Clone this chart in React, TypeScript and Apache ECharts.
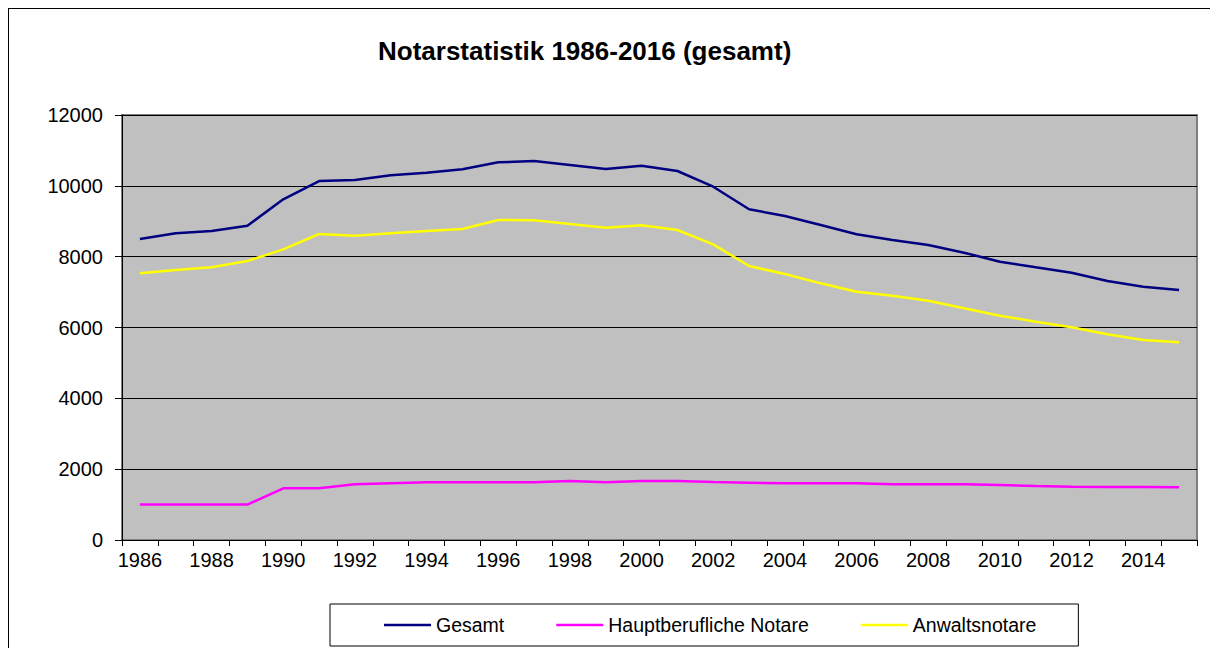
import React, { useEffect, useRef } from "react";
import * as echarts from "echarts";

const years = [
  "1986", "1987", "1988", "1989", "1990", "1991", "1992", "1993", "1994", "1995",
  "1996", "1997", "1998", "1999", "2000", "2001", "2002", "2003", "2004", "2005",
  "2006", "2007", "2008", "2009", "2010", "2011", "2012", "2013", "2014", "2015",
];

const gesamt = [
  8500, 8660, 8725, 8875, 9620, 10136, 10165, 10300, 10370, 10467,
  10664, 10700, 10588, 10475, 10569, 10419, 9976, 9337, 9148, 8894,
  8631, 8470, 8329, 8112, 7858, 7700, 7547, 7313, 7152, 7059,
];

const hauptberuflich = [
  1000, 1000, 1000, 1000, 1460, 1460, 1572, 1600, 1628, 1628,
  1628, 1628, 1666, 1628, 1666, 1666, 1638, 1619, 1600, 1600,
  1600, 1572, 1572, 1572, 1553, 1525, 1506, 1497, 1497, 1490,
];

const anwaltsnotare = [
  7530, 7623, 7700, 7877, 8207, 8640, 8593, 8659, 8725, 8781,
  9035, 9030, 8922, 8819, 8885, 8753, 8348, 7736, 7510, 7247,
  7012, 6899, 6756, 6541, 6334, 6165, 6005, 5807, 5647, 5581,
];

const yTicks = { min: 0, max: 12000, interval: 2000 };

const FONT = "'Liberation Sans', Arial, sans-serif";

export default function App() {
  const ref = useRef<HTMLDivElement>(null);

  useEffect(() => {
    if (!ref.current) return;
    const chart = echarts.init(ref.current, undefined, { renderer: "svg" });
    chart.setOption({
      animation: false,
      backgroundColor: "#ffffff",
      title: {
        text: "Notarstatistik 1986-2016 (gesamt)",
        left: 364,
        top: 24,
        textStyle: { fontFamily: FONT, fontSize: 26, fontWeight: "bold", color: "#000" },
      },
      grid: {
        left: 113,
        right: 18,
        top: 106,
        bottom: 127,
        show: true,
        backgroundColor: "#C0C0C0",
        borderColor: "#808080",
        borderWidth: 2,
        containLabel: false,
      },
      legend: {
        left: 321,
        top: 595,
        orient: "horizontal",
        icon: "rect",
        itemWidth: 47,
        itemHeight: 2.5,
        itemGap: 52,
        padding: [11, 42, 11, 54],
        borderColor: "#000",
        borderWidth: 1,
        borderRadius: 0,
        backgroundColor: "#fff",
        textStyle: { fontFamily: FONT, fontSize: 19.5, color: "#000" },
        data: ["Gesamt", "Hauptberufliche Notare", "Anwaltsnotare"],
      },
      xAxis: {
        type: "category",
        data: years,
        boundaryGap: true,
        axisLine: { show: true, lineStyle: { color: "#000", width: 1 } },
        axisTick: { show: true, interval: 0, alignWithLabel: false, length: 6, lineStyle: { color: "#000" } },
        axisLabel: { interval: 1, margin: 10, fontFamily: FONT, fontSize: 20, color: "#000" },
        splitLine: { show: false },
      },
      yAxis: {
        type: "value",
        min: yTicks.min,
        max: yTicks.max,
        interval: yTicks.interval,
        axisLine: { show: true, lineStyle: { color: "#000", width: 1 } },
        axisTick: { show: true, length: 7, lineStyle: { color: "#000" } },
        axisLabel: {
          margin: 19,
          fontFamily: FONT,
          fontSize: 20,
          color: "#000",
          formatter: (v: number) => String(v),
        },
        splitLine: { show: true, lineStyle: { color: "#000", width: 1 } },
      },
      series: [
        {
          name: "Gesamt",
          type: "line",
          data: gesamt,
          symbol: "none",
          lineStyle: { color: "#000080", width: 2.5 },
          itemStyle: { color: "#000080" },
        },
        {
          name: "Hauptberufliche Notare",
          type: "line",
          data: hauptberuflich,
          symbol: "none",
          lineStyle: { color: "#FF00FF", width: 2.5 },
          itemStyle: { color: "#FF00FF" },
        },
        {
          name: "Anwaltsnotare",
          type: "line",
          data: anwaltsnotare,
          symbol: "none",
          lineStyle: { color: "#FFFF00", width: 2.5 },
          itemStyle: { color: "#FFFF00" },
        },
      ],
    });
    return () => chart.dispose();
  }, []);

  return (
    <div
      style={{
        width: 1208,
        height: 660,
        border: "1px solid #000",
        boxSizing: "border-box",
        background: "#fff",
      }}
    >
      <div ref={ref} style={{ width: 1206, height: 658 }} />
    </div>
  );
}
